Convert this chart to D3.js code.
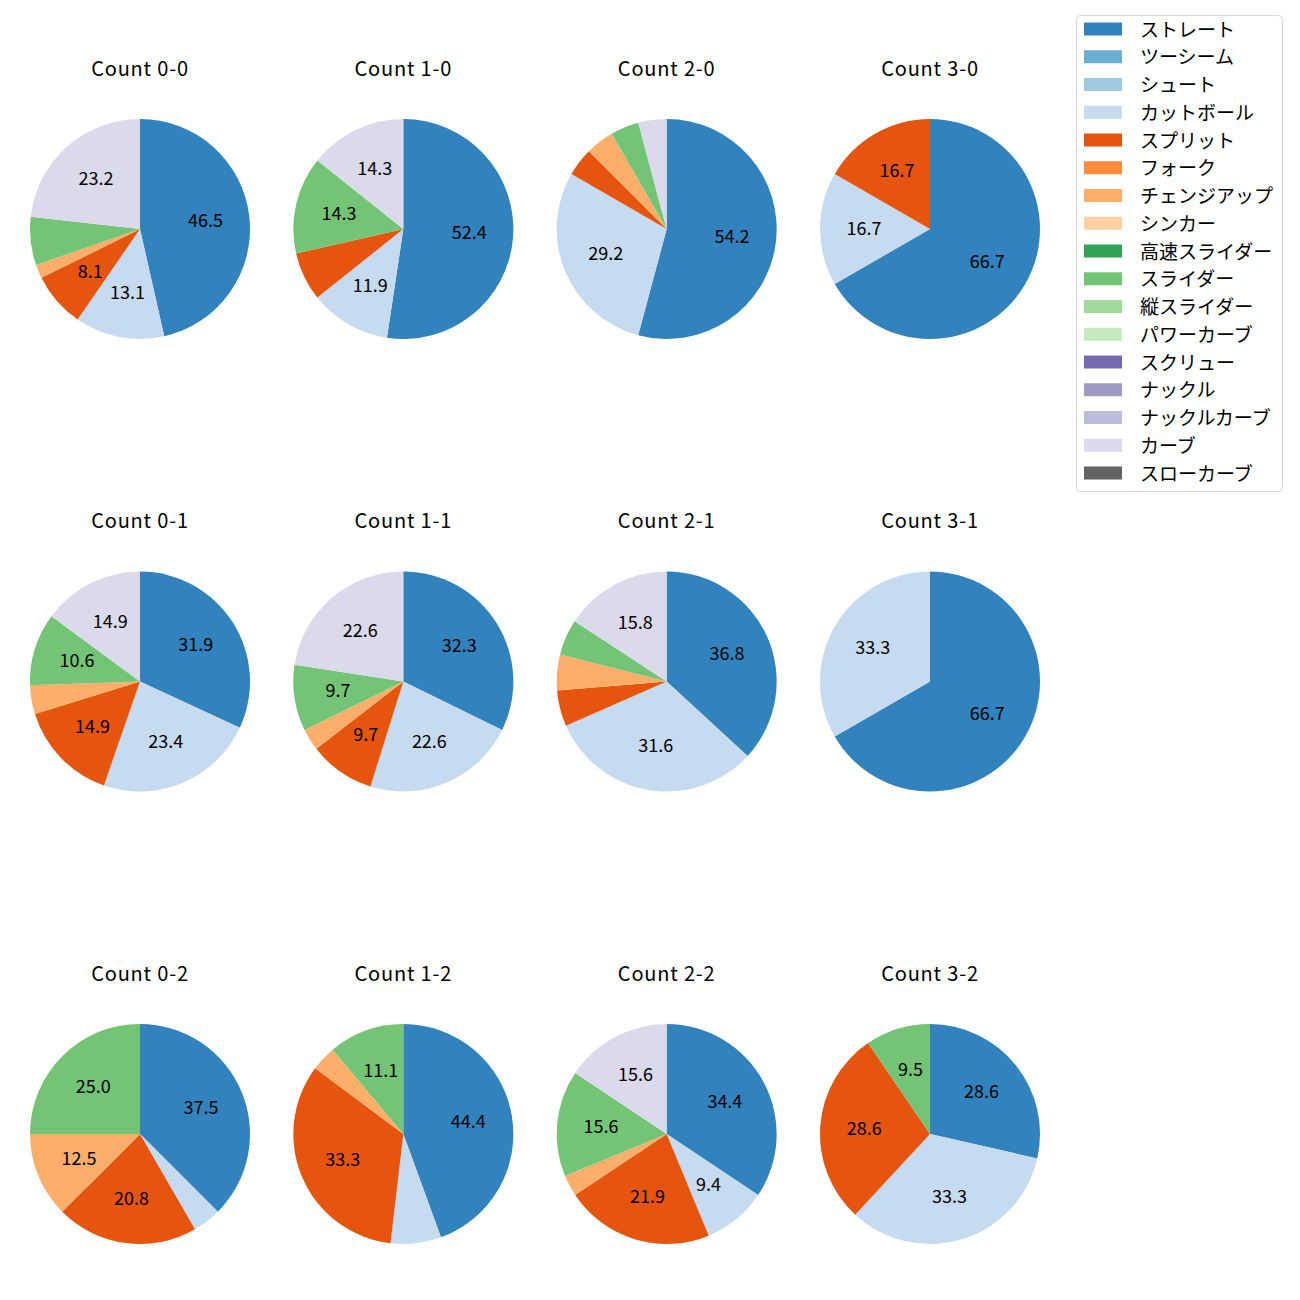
<!DOCTYPE html>
<html><head><meta charset="utf-8">
<script src="https://cdn.jsdelivr.net/npm/d3@7"></script>
<style>body{margin:0;background:#fff;} svg{display:block;}</style>
</head><body>
<svg id="chart" width="1300" height="1300"></svg>
<script>
const pitchTypes = ["ストレート","ツーシーム","シュート","カットボール","スプリット","フォーク","チェンジアップ","シンカー","高速スライダー","スライダー","縦スライダー","パワーカーブ","スクリュー","ナックル","ナックルカーブ","カーブ","スローカーブ"];
const pitchColors = ["#3182bd","#6baed6","#9ecae1","#c6dbef","#e6550d","#fd8d3c","#fdae6b","#fdd0a2","#31a354","#74c476","#a1d99b","#c7e9c0","#756bb1","#9e9ac8","#bcbddc","#dadaeb","#636363"];
const countLabels = ["0-0","1-0","2-0","3-0","0-1","1-1","2-1","3-1","0-2","1-2","2-2","3-2"];
// pitch counts per ball-strike count, in pitchTypes order
const c00 = [46,0,0,13,8,0,2,0,0,7,0,0,0,0,0,23,0];
const c10 = [22,0,0,5,3,0,0,0,0,6,0,0,0,0,0,6,0];
const c20 = [13,0,0,7,1,0,1,0,0,1,0,0,0,0,0,1,0];
const c30 = [4,0,0,1,1,0,0,0,0,0,0,0,0,0,0,0,0];
const c01 = [15,0,0,11,7,0,2,0,0,5,0,0,0,0,0,7,0];
const c11 = [10,0,0,7,3,0,1,0,0,3,0,0,0,0,0,7,0];
const c21 = [7,0,0,6,1,0,1,0,0,1,0,0,0,0,0,3,0];
const c31 = [2,0,0,1,0,0,0,0,0,0,0,0,0,0,0,0,0];
const c02 = [9,0,0,1,5,0,3,0,0,6,0,0,0,0,0,0,0];
const c12 = [12,0,0,2,9,0,1,0,0,3,0,0,0,0,0,0,0];
const c22 = [11,0,0,3,7,0,1,0,0,5,0,0,0,0,0,5,0];
const c32 = [6,0,0,7,6,0,0,0,0,2,0,0,0,0,0,0,0];
const countData = [c00,c10,c20,c30,c01,c11,c21,c31,c02,c12,c22,c32];

const svg = d3.select("#chart");
const font = "'Noto Sans CJK JP', 'Noto Sans', sans-serif";
const colX = d3.scalePoint().domain([0,1,2,3]).range([140, 930]);
const rowY = d3.scalePoint().domain([0,1,2]).range([229, 1134]);
const R = 110;
const color = d3.scaleOrdinal().domain(pitchTypes).range(pitchColors);
const pie = d3.pie().sort(null).value(d => d.v);
const arc = d3.arc().innerRadius(0).outerRadius(R);
const labelArc = d3.arc().innerRadius(R*0.6).outerRadius(R*0.6);

countLabels.forEach((lab, i) => {
  const cx = colX(i % 4), cy = rowY(Math.floor(i / 4));
  const g = svg.append("g").attr("transform", `translate(${cx},${cy})`);
  const vals = countData[i].map((v, k) => ({name: pitchTypes[k], v}));
  const total = d3.sum(vals, d => d.v);
  const arcs = pie(vals).filter(a => a.data.v > 0);
  g.selectAll("path").data(arcs).join("path")
    .attr("d", arc).attr("fill", d => color(d.data.name));
  g.selectAll("text.lbl").data(arcs.filter(a => a.data.v / total * 100 >= 8)).join("text")
    .attr("class", "lbl")
    .attr("transform", d => { const c = labelArc.centroid(d); return `translate(${c[0]},${c[1] - 2.5})`; })
    .attr("text-anchor", "middle").attr("dominant-baseline", "central")
    .attr("font-family", font).attr("font-size", 18).attr("fill", "#000")
    .text(d => (d.data.v / total * 100).toFixed(1));
  g.append("text").attr("x", 0).attr("y", -162)
    .attr("text-anchor", "middle").attr("dominant-baseline", "central")
    .attr("font-family", font).attr("font-size", 20).attr("letter-spacing", 0.8).attr("fill", "#000")
    .text("Count " + lab);
});

// legend
const lg = svg.append("g");
lg.append("rect").attr("x", 1076.5).attr("y", 15.5).attr("width", 206).attr("height", 476)
  .attr("rx", 4).attr("fill", "#fff").attr("stroke", "#d6d6d6");
const ly = d3.scalePoint().domain(d3.range(pitchTypes.length)).range([29, 473]);
pitchTypes.forEach((p, k) => {
  lg.append("rect").attr("x", 1084).attr("y", ly(k) - 6.5).attr("width", 38).attr("height", 13)
    .attr("fill", color(p));
  lg.append("text").attr("x", 1140).attr("y", ly(k) - 1).attr("dominant-baseline", "central")
    .attr("font-family", font).attr("font-size", 19).attr("fill", "#000").text(p);
});
</script>
</body></html>
